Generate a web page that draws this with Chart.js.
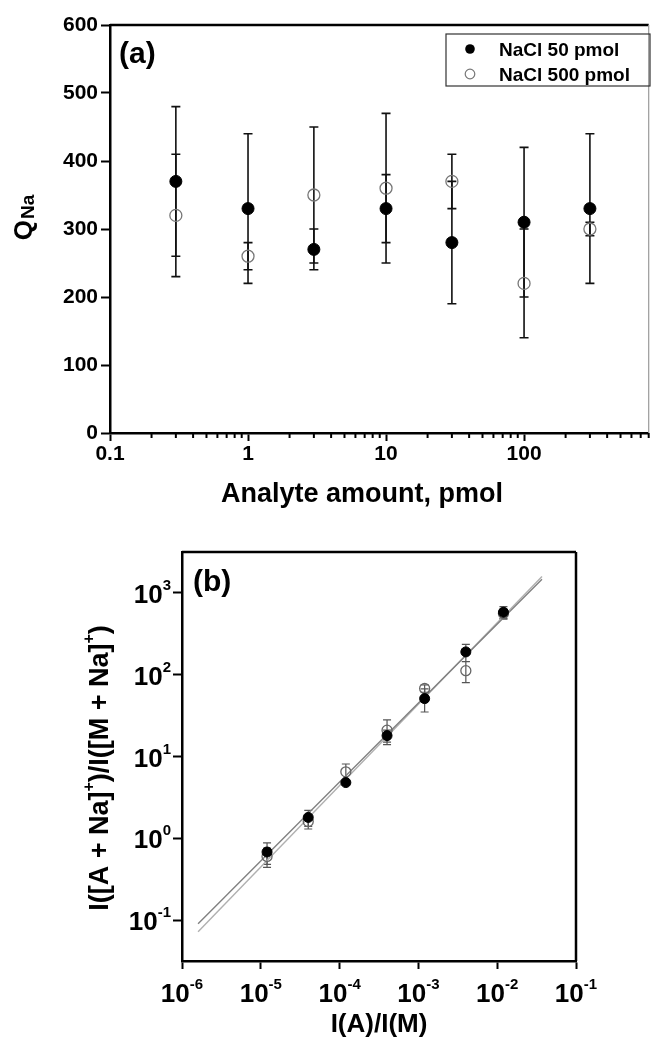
<!DOCTYPE html>
<html>
<head>
<meta charset="utf-8">
<script src="https://cdn.jsdelivr.net/npm/chart.js@4.4.0/dist/chart.umd.min.js"></script>
<style>
html,body{margin:0;padding:0;background:#fff;}
#wrapA{position:absolute;left:0;top:0;width:656px;height:520px;}
#wrapB{position:absolute;left:0;top:520px;width:656px;height:517px;}
</style>
</head>
<body>
<div id="wrapA"><canvas id="cA"></canvas></div>
<div id="wrapB"><canvas id="cB"></canvas></div>
<script>
// ---------- Panel (a) data ----------
const amounts = [0.3, 1, 3, 10, 30, 100, 300];
const qNa50 = [370, 330, 270, 330, 280, 310, 330];
const qNa50Err = [110, 110, 30, 50, 90, 110, 110];
const qNa500 = [320, 260, 350, 360, 370, 220, 300];
const qNa500Err = [90, 20, 100, 110, 40, 80, 10];
const aXTicks = [0.1, 1, 10, 100];
const aXTickLabels = ['0.1', '1', '10', '100'];
const aXMinorTicks = [0.2,0.3,0.4,0.5,0.6,0.7,0.8,0.9, 2,3,4,5,6,7,8,9, 20,30,40,50,60,70,80,90, 200,300,400,500,600,700,800];
const aYTicks = [0, 100, 200, 300, 400, 500, 600];
const seriesLabels = ['NaCl 50 pmol', 'NaCl 500 pmol'];

// ---------- Panel (b) data ----------
const ratioX = [1.2e-5, 4e-5, 1.2e-4, 4e-4, 1.2e-3, 4e-3, 1.2e-2];
const ratio50 = [0.68, 1.8, 4.8, 18, 51, 190, 580];
const ratio50Err = [0.2, 0.4, 0.3, 3, 16, 45, 100];
const ratio500 = [0.6, 1.6, 6.5, 21, 68, 112, 560];
const ratio500Err = [0.16, 0.3, 1.6, 7, 7, 32, 80];
const fitX = [1.6e-6, 3.7e-2];
const fit50 = [0.09, 1470];
const fit500 = [0.072, 1590];
const bXExponents = ['-6', '-5', '-4', '-3', '-2', '-1'];
const bYExponents = ['-1', '0', '1', '2', '3'];

const FB = '"Liberation Sans", Arial, sans-serif';

const pts = (xs, ys) => xs.map((x, i) => ({x: x, y: ys[i]}));

// error bar plugin (uses scales)
const errorBarPlugin = {
  id: 'errorBars',
  beforeDatasetsDraw(chart, args, opts) {
    const ctx = chart.ctx;
    const xs = chart.scales.x, ys = chart.scales.y;
    ctx.save();
    ctx.strokeStyle = opts.color;
    ctx.lineWidth = opts.width;
    chart.data.datasets.forEach(ds => {
      if (!ds.errorBars) return;
      ds.data.forEach((p, i) => {
        const e = ds.errorBars[i];
        const px = xs.getPixelForValue(p.x);
        const y1 = ys.getPixelForValue(p.y + e);
        const y2 = ys.getPixelForValue(p.y - e);
        ctx.beginPath();
        ctx.moveTo(px, y1); ctx.lineTo(px, y2);
        ctx.moveTo(px - opts.cap, y1); ctx.lineTo(px + opts.cap, y1);
        ctx.moveTo(px - opts.cap, y2); ctx.lineTo(px + opts.cap, y2);
        ctx.stroke();
      });
    });
    ctx.restore();
  }
};

const framePlugin = {
  id: 'frame',
  afterDraw(chart, args, opts) {
    const {ctx, chartArea: ca} = chart;
    ctx.save();
    ctx.lineWidth = opts.topWidth;
    ctx.strokeStyle = '#000';
    ctx.beginPath();
    ctx.moveTo(ca.left, ca.top); ctx.lineTo(ca.right, ca.top);
    ctx.stroke();
    ctx.lineWidth = opts.rightWidth;
    ctx.strokeStyle = opts.rightColor;
    ctx.beginPath();
    ctx.moveTo(ca.right, ca.top); ctx.lineTo(ca.right, ca.bottom);
    ctx.stroke();
    ctx.restore();
  }
};

// ---------- Chart (a) ----------
const minorTicksA = {
  id: 'minorTicksA',
  afterDraw(chart) {
    const {ctx, chartArea: ca} = chart;
    const xs = chart.scales.x;
    ctx.save();
    ctx.strokeStyle = '#000';
    ctx.lineWidth = 2;
    aXMinorTicks.forEach(v => {
      const px = xs.getPixelForValue(v);
      if (px > ca.right + 1) return;
      ctx.beginPath();
      ctx.moveTo(px, ca.bottom); ctx.lineTo(px, ca.bottom + 5);
      ctx.stroke();
    });
    ctx.restore();
  }
};

const textA = {
  id: 'textA',
  afterDraw(chart) {
    const {ctx, chartArea: ca} = chart;
    ctx.save();
    ctx.fillStyle = '#000';
    ctx.textBaseline = 'alphabetic';
    ctx.textAlign = 'left';
    ctx.font = 'bold 30px ' + FB;
    ctx.fillText('(a)', ca.left + 9, ca.top + 38);
    ctx.font = 'bold 27px ' + FB;
    ctx.textAlign = 'center';
    ctx.fillText('Analyte amount, pmol', 362, 502);
    // legend
    const bx = 446, by = 34, bw = 204, bh = 52;
    ctx.lineWidth = 1.2;
    ctx.strokeStyle = '#333';
    ctx.strokeRect(bx, by, bw, bh);
    chart.data.datasets.forEach((ds, i) => {
      const cy = by + 15 + i * 25;
      ctx.beginPath();
      ctx.arc(bx + 24, cy, 4.8, 0, Math.PI * 2);
      if (i === 0) { ctx.fillStyle = '#000'; ctx.fill(); }
      else { ctx.strokeStyle = '#777'; ctx.lineWidth = 1.2; ctx.stroke(); }
      ctx.fillStyle = '#000';
      ctx.font = 'bold 19px ' + FB;
      ctx.textAlign = 'left';
      ctx.fillText(ds.label, bx + 53, cy + 7);
    });
    // y title Q_Na
    ctx.translate(32, 218);
    ctx.rotate(-Math.PI / 2);
    ctx.font = 'bold 26px ' + FB;
    const wQ = ctx.measureText('Q').width;
    ctx.font = 'bold 19px ' + FB;
    const wN = ctx.measureText('Na').width;
    const x0 = -(wQ + wN) / 2;
    ctx.font = 'bold 26px ' + FB;
    ctx.fillText('Q', x0, 0);
    ctx.font = 'bold 19px ' + FB;
    ctx.fillText('Na', x0 + wQ + 1, 2);
    ctx.restore();
  }
};

new Chart(document.getElementById('cA'), {
  type: 'scatter',
  data: {
    datasets: [
      {label: seriesLabels[0], data: pts(amounts, qNa50), errorBars: qNa50Err,
       pointRadius: 6, pointBackgroundColor: '#000', pointBorderColor: '#000', pointBorderWidth: 1, order: 1},
      {label: seriesLabels[1], data: pts(amounts, qNa500), errorBars: qNa500Err,
       pointRadius: 6, pointBackgroundColor: 'rgba(0,0,0,0)', pointBorderColor: '#777', pointBorderWidth: 1.3, order: 2}
    ]
  },
  options: {
    responsive: true, maintainAspectRatio: false, animation: false, events: [],
    layout: {padding: {top: 25, right: 2, left: 0, bottom: 0}},
    plugins: {
      legend: {display: false}, tooltip: {enabled: false},
      errorBars: {color: '#111', width: 1.6, cap: 4.5},
      frame: {topWidth: 2.5, rightWidth: 1.2, rightColor: '#999'}
    },
    scales: {
      x: {
        type: 'logarithmic', min: 0.1, max: 800,
        afterBuildTicks: s => { s.ticks = aXTicks.map(v => ({value: v})); },
        afterFit: s => { s.height = 87; },
        grid: {display: true, drawOnChartArea: false, drawTicks: true, tickLength: 8, tickWidth: 2, tickColor: '#000'},
        border: {display: true, color: '#000', width: 2.5},
        ticks: {color: '#000', font: {family: 'Liberation Sans', weight: 'bold', size: 21}, padding: 1,
                maxRotation: 0, autoSkip: false, callback: (v, i) => aXTickLabels[i]}
      },
      y: {
        type: 'linear', min: 0, max: 600,
        afterBuildTicks: s => { s.ticks = aYTicks.map(v => ({value: v})); },
        afterFit: s => { s.width = 110; },
        grid: {display: true, drawOnChartArea: false, drawTicks: true, tickLength: 9, tickWidth: 2, tickColor: '#000'},
        border: {display: true, color: '#000', width: 2.5},
        ticks: {color: '#000', font: {family: 'Liberation Sans', weight: 'bold', size: 21}, padding: 3,
                callback: v => String(v)}
      }
    }
  },
  plugins: [errorBarPlugin, framePlugin, minorTicksA, textA]
});

// ---------- Chart (b) ----------
const textB = {
  id: 'textB',
  afterDraw(chart) {
    const {ctx, chartArea: ca} = chart;
    const xs = chart.scales.x, ys = chart.scales.y;
    ctx.save();
    ctx.fillStyle = '#000';
    ctx.textBaseline = 'alphabetic';
    // x tick labels 10^n
    bXExponents.forEach(e => {
      const px = xs.getPixelForValue(Math.pow(10, Number(e)));
      ctx.font = 'bold 26px ' + FB;
      const w1 = ctx.measureText('10').width;
      ctx.font = 'bold 15px ' + FB;
      const w2 = ctx.measureText(e).width;
      const x0 = px - (w1 + w2) / 2;
      ctx.textAlign = 'left';
      ctx.font = 'bold 26px ' + FB;
      ctx.fillText('10', x0, ca.bottom + 41);
      ctx.font = 'bold 15px ' + FB;
      ctx.fillText(e, x0 + w1, ca.bottom + 28);
    });
    // y tick labels
    bYExponents.forEach(e => {
      const py = ys.getPixelForValue(Math.pow(10, Number(e)));
      ctx.font = 'bold 15px ' + FB;
      const w2 = ctx.measureText(e).width;
      ctx.font = 'bold 26px ' + FB;
      const w1 = ctx.measureText('10').width;
      const xr = ca.left - 11;
      ctx.textAlign = 'left';
      ctx.fillText('10', xr - w2 - w1, py + 10);
      ctx.font = 'bold 15px ' + FB;
      ctx.fillText(e, xr - w2, py - 3);
    });
    // panel label
    ctx.font = 'bold 30px ' + FB;
    ctx.fillText('(b)', ca.left + 11, ca.top + 39);
    // x title
    ctx.font = 'bold 26px ' + FB;
    ctx.textAlign = 'center';
    ctx.fillText('I(A)/I(M)', (ca.left + ca.right) / 2, ca.bottom + 71);
    // y title with superscripts
    const parts = [['I([A + Na]', 0], ['+', 1], [')/I([M + Na]', 0], ['+', 1], [')', 0]];
    ctx.translate(108, 248);
    ctx.rotate(-Math.PI / 2);
    ctx.textAlign = 'left';
    let total = 0;
    parts.forEach(p => { ctx.font = (p[1] ? 'bold 16px ' : 'bold 27px ') + FB; total += ctx.measureText(p[0]).width; });
    let x = -total / 2;
    parts.forEach(p => {
      ctx.font = (p[1] ? 'bold 16px ' : 'bold 27px ') + FB;
      ctx.fillText(p[0], x, p[1] ? -14 : 0);
      x += ctx.measureText(p[0]).width;
    });
    ctx.restore();
  }
};

new Chart(document.getElementById('cB'), {
  type: 'scatter',
  data: {
    datasets: [
      {label: seriesLabels[0], data: pts(ratioX, ratio50), errorBars: ratio50Err,
       pointRadius: 5, pointBackgroundColor: '#000', pointBorderColor: '#000', pointBorderWidth: 1, order: 1},
      {label: seriesLabels[1], data: pts(ratioX, ratio500), errorBars: ratio500Err,
       pointRadius: 5, pointBackgroundColor: 'rgba(0,0,0,0)', pointBorderColor: '#666', pointBorderWidth: 1.3, order: 2},
      {label: 'fit 50', data: pts(fitX, fit50), showLine: true, borderColor: '#808080', borderWidth: 1.4,
       pointRadius: 0, order: 3},
      {label: 'fit 500', data: pts(fitX, fit500), showLine: true, borderColor: '#b0b0b0', borderWidth: 1.4,
       pointRadius: 0, order: 4}
    ]
  },
  options: {
    responsive: true, maintainAspectRatio: false, animation: false, events: [],
    layout: {padding: {top: 32, right: 80, left: 0, bottom: 0}},
    plugins: {
      legend: {display: false}, tooltip: {enabled: false},
      errorBars: {color: '#555', width: 1.2, cap: 4},
      frame: {topWidth: 2.5, rightWidth: 2.5, rightColor: '#000'}
    },
    scales: {
      x: {
        type: 'logarithmic', min: 1e-6, max: 1e-1,
        afterBuildTicks: s => { s.ticks = bXExponents.map(e => ({value: Math.pow(10, Number(e))})); },
        afterFit: s => { s.height = 76; },
        grid: {display: true, drawOnChartArea: false, drawTicks: true, tickLength: 8, tickWidth: 2, tickColor: '#000'},
        border: {display: true, color: '#000', width: 2.5},
        ticks: {display: false, autoSkip: false}
      },
      y: {
        type: 'logarithmic', min: Math.pow(10, -1.5), max: Math.pow(10, 3.5),
        afterBuildTicks: s => { s.ticks = bYExponents.map(e => ({value: Math.pow(10, Number(e))})); },
        afterFit: s => { s.width = 182; },
        grid: {display: true, drawOnChartArea: false, drawTicks: true, tickLength: 9, tickWidth: 2, tickColor: '#000'},
        border: {display: true, color: '#000', width: 2.5},
        ticks: {display: false, autoSkip: false}
      }
    }
  },
  plugins: [errorBarPlugin, framePlugin, textB]
});
</script>
</body>
</html>
